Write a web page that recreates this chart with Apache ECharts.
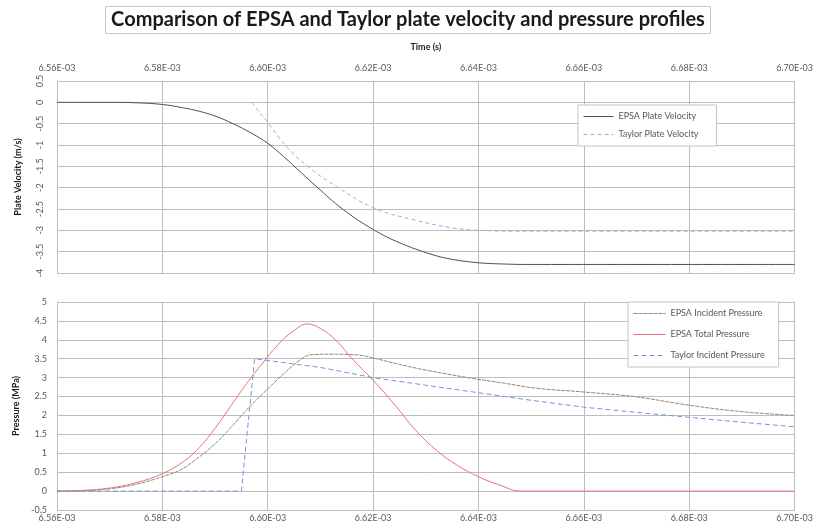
<!DOCTYPE html>
<html>
<head>
<meta charset="utf-8">
<script src="https://cdn.jsdelivr.net/npm/echarts@6/dist/echarts.min.js"></script>
<style>
  html, body { margin: 0; padding: 0; background: #fff; }
  #main { width: 816px; height: 531px; }
</style>
</head>
<body>
<div id="main"></div>
<script>
// time in microseconds (shown as x.xxE-03 s)
var epsaVelT = [6560, 6565, 6570, 6575, 6580, 6584, 6587, 6590, 6593.4, 6597, 6600, 6603, 6605.4, 6609.2, 6614.3, 6620, 6625, 6631, 6635, 6640, 6645, 6650, 6700];
var epsaVel  = [0, 0, 0, -0.01, -0.05, -0.13, -0.21, -0.32, -0.5, -0.73, -0.96, -1.27, -1.54, -1.97, -2.51, -2.98, -3.29, -3.56, -3.68, -3.76, -3.79, -3.8, -3.8];

var taylorVelT = [6597, 6598, 6600, 6603.5, 6608, 6613, 6620, 6627.6, 6635, 6640, 6650, 6700];
var taylorVel  = [0, -0.17, -0.47, -1.03, -1.54, -1.97, -2.47, -2.75, -2.94, -3.0, -3.02, -3.02];

var epsaIncT = [6560, 6565, 6570, 6575, 6580, 6583.3, 6586, 6589.6, 6593, 6596, 6600, 6603, 6606, 6608, 6612, 6617, 6620, 6625, 6630, 6638, 6645, 6651, 6660, 6670, 6680, 6690, 6700];
var epsaInc  = [0, 0.01, 0.06, 0.18, 0.38, 0.55, 0.8, 1.2, 1.68, 2.15, 2.7, 3.1, 3.45, 3.6, 3.62, 3.6, 3.52, 3.35, 3.2, 3.0, 2.85, 2.72, 2.62, 2.49, 2.27, 2.1, 2.0];

var epsaTotT = [6560, 6565, 6570, 6575, 6580, 6584, 6587, 6590, 6593, 6596, 6599, 6602, 6605, 6607.5, 6610, 6613, 6616, 6620, 6624, 6628, 6632, 6636, 6640, 6644, 6648, 6700];
var epsaTot  = [0, 0.02, 0.08, 0.22, 0.46, 0.78, 1.15, 1.66, 2.25, 2.85, 3.38, 3.88, 4.25, 4.42, 4.3, 3.98, 3.5, 2.93, 2.3, 1.62, 1.08, 0.68, 0.38, 0.16, 0, 0];

var taylorIncT = [6560, 6595, 6597.5, 6610, 6620, 6630, 6640, 6650, 6660, 6670, 6680, 6690, 6700];
var taylorInc  = [0, 0, 3.5, 3.27, 3.0, 2.8, 2.6, 2.4, 2.22, 2.08, 1.95, 1.82, 1.70];

function pairs(xs, ys) {
  return xs.map(function (x, i) { return [x, ys[i]]; });
}

var labelColor = '#595959';
var gridColor = '#bdbdbd';
var fontFam = 'Lato, "Liberation Sans", sans-serif';

// line styles shared by series and legend samples
var styles = {
  'EPSA Plate Velocity':      { width: 1, color: '#505050', type: 'solid' },
  'Taylor Plate Velocity':    { width: 1, color: '#8fb2e0', type: [4, 3] },
  'EPSA Incident Pressure':   { width: 1, color: '#8c8c7c', type: [4, 1] },
  'EPSA Total Pressure':      { width: 1, color: '#e8727a', type: 'solid' },
  'Taylor Incident Pressure': { width: 1, color: '#7099d4', type: [5, 3] }
};

function legendItems(names) {
  return names.map(function (n) {
    return { name: n, lineStyle: styles[n], itemStyle: { opacity: 0 } };
  });
}

function timeLabel(v) {
  return (v / 1000).toFixed(2) + 'E-03';
}

function lineSeries(name, xi, xs, ys, smooth) {
  return {
    name: name,
    type: 'line',
    xAxisIndex: xi, yAxisIndex: xi,
    symbol: 'none',
    smooth: smooth,
    color: styles[name].color,
    lineStyle: styles[name],
    data: pairs(xs, ys)
  };
}

var myChart = echarts.init(document.getElementById('main'));
myChart.setOption({
  animation: false,
  backgroundColor: '#fff',
  textStyle: { fontFamily: fontFam },
  title: {
    text: 'Comparison of EPSA and Taylor plate velocity and pressure profiles',
    left: 'center',
    top: 6,
    padding: [4, 6, 4, 6],
    borderColor: '#c8c8c8',
    borderWidth: 1,
    textStyle: { fontSize: 20, fontWeight: 'bold', color: '#1a1a1a', fontFamily: fontFam }
  },
  legend: [{
    data: legendItems(['EPSA Plate Velocity', 'Taylor Plate Velocity']),
    orient: 'vertical',
    left: 578,
    top: 105,
    itemWidth: 30,
    itemHeight: 9,
    itemGap: 9,
    padding: [7, 18, 7, 5],
    backgroundColor: '#fff',
    borderColor: '#c4c4c4',
    borderWidth: 1,
    textStyle: { fontSize: 9, color: labelColor }
  }, {
    data: legendItems(['EPSA Incident Pressure', 'EPSA Total Pressure', 'Taylor Incident Pressure']),
    orient: 'vertical',
    left: 628,
    top: 302,
    itemWidth: 32,
    itemHeight: 9,
    itemGap: 12,
    padding: [7, 14, 7, 5],
    backgroundColor: '#fff',
    borderColor: '#c4c4c4',
    borderWidth: 1,
    textStyle: { fontSize: 9, color: labelColor }
  }],
  grid: [
    { left: 57, right: 21, top: 81, height: 192 },
    { left: 57, right: 21, top: 302, height: 208 }
  ],
  xAxis: [{
    gridIndex: 0,
    type: 'value',
    position: 'top',
    min: 6560, max: 6700, interval: 20,
    name: 'Time (s)',
    nameLocation: 'middle',
    nameGap: 29,
    nameTextStyle: { fontSize: 9, fontWeight: 'bold', color: '#1a1a1a' },
    axisLine: { show: true, lineStyle: { color: gridColor } },
    axisTick: { show: false },
    axisLabel: { color: labelColor, fontSize: 9, margin: 8, formatter: timeLabel },
    splitLine: { show: true, lineStyle: { color: gridColor } }
  }, {
    gridIndex: 1,
    type: 'value',
    position: 'bottom',
    min: 6560, max: 6700, interval: 20,
    axisLine: { show: true, lineStyle: { color: gridColor } },
    axisTick: { show: false },
    axisLabel: { color: labelColor, fontSize: 9, margin: 4, formatter: timeLabel },
    splitLine: { show: true, lineStyle: { color: gridColor } }
  }],
  yAxis: [{
    gridIndex: 0,
    type: 'value',
    min: -4, max: 0.5, interval: 0.5,
    name: 'Plate Velocity (m/s)',
    nameLocation: 'middle',
    nameGap: 34,
    nameTextStyle: { fontSize: 9, fontWeight: 'bold', color: '#1a1a1a' },
    axisLine: { show: true, lineStyle: { color: gridColor } },
    axisTick: { show: false },
    axisLabel: { color: labelColor, fontSize: 9, rotate: 90, margin: 12 },
    splitLine: { show: true, lineStyle: { color: gridColor } }
  }, {
    gridIndex: 1,
    type: 'value',
    min: -0.5, max: 5, interval: 0.5,
    name: 'Pressure (MPa)',
    nameLocation: 'middle',
    nameGap: 36,
    nameTextStyle: { fontSize: 9, fontWeight: 'bold', color: '#1a1a1a' },
    axisLine: { show: true, lineStyle: { color: gridColor } },
    axisTick: { show: false },
    axisLabel: { color: labelColor, fontSize: 9, margin: 10 },
    splitLine: { show: true, lineStyle: { color: gridColor } }
  }],
  series: [
    lineSeries('EPSA Plate Velocity', 0, epsaVelT, epsaVel, 0.4),
    lineSeries('Taylor Plate Velocity', 0, taylorVelT, taylorVel, 0.4),
    lineSeries('EPSA Incident Pressure', 1, epsaIncT, epsaInc, 0.4),
    lineSeries('EPSA Total Pressure', 1, epsaTotT, epsaTot, 0.4),
    lineSeries('Taylor Incident Pressure', 1, taylorIncT, taylorInc, false)
  ]
});
</script>
</body>
</html>
